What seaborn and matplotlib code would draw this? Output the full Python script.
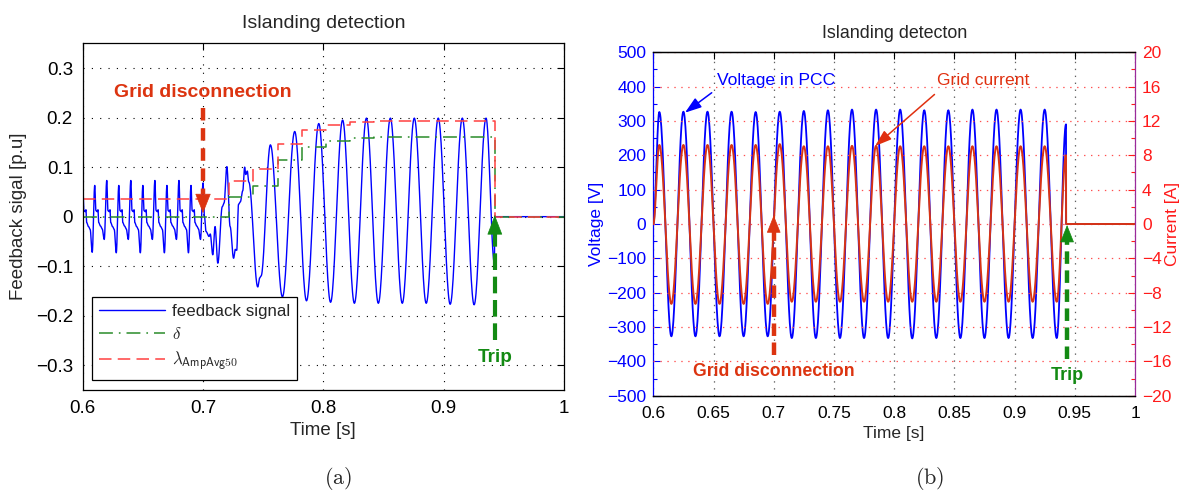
import numpy as np
import matplotlib
matplotlib.use("Agg")
import matplotlib.pyplot as plt
import seaborn as sns

# ------------------------------------------------------------------ data
t_disconnect = 0.70
t_trip = 0.9425

# (a) feedback signal key points (peaks / troughs / shoulders) before disconnection
fb_pre_t = [
    0.6000, 0.6010, 0.6020, 0.6027, 0.6033, 0.6048, 0.6062, 0.6079,
    0.6100, 0.6110, 0.6120, 0.6127, 0.6133, 0.6148, 0.6162, 0.6179,
    0.6200, 0.6210, 0.6220, 0.6227, 0.6233, 0.6248, 0.6262, 0.6279,
    0.6300, 0.6310, 0.6320, 0.6327, 0.6333, 0.6348, 0.6362, 0.6379,
    0.6400, 0.6410, 0.6420, 0.6427, 0.6433, 0.6448, 0.6462, 0.6479,
    0.6500, 0.6510, 0.6520, 0.6527, 0.6533, 0.6548, 0.6562, 0.6579,
    0.6600, 0.6610, 0.6620, 0.6627, 0.6633, 0.6648, 0.6662, 0.6679,
    0.6700, 0.6710, 0.6720, 0.6727, 0.6733, 0.6748, 0.6762, 0.6779,
    0.6800, 0.6810, 0.6820, 0.6827, 0.6833, 0.6848, 0.6862, 0.6879,
    0.6900, 0.6910, 0.6920, 0.6927, 0.6933, 0.6948, 0.6962, 0.6979,
]
fb_pre_v = [
    0.073, 0.012, 0.010, 0.014, -0.012, -0.020, -0.026, -0.072,
    0.063, 0.012, 0.010, 0.014, -0.012, -0.019, -0.025, -0.046,
    0.073, 0.012, 0.010, 0.014, -0.012, -0.020, -0.026, -0.073,
    0.063, 0.012, 0.010, 0.014, -0.012, -0.019, -0.025, -0.046,
    0.073, 0.012, 0.010, 0.014, -0.012, -0.020, -0.026, -0.073,
    0.063, 0.012, 0.010, 0.014, -0.012, -0.019, -0.025, -0.046,
    0.073, 0.012, 0.010, 0.014, -0.012, -0.020, -0.026, -0.073,
    0.063, 0.012, 0.010, 0.014, -0.012, -0.019, -0.025, -0.046,
    0.073, 0.012, 0.010, 0.014, -0.012, -0.020, -0.026, -0.073,
    0.063, 0.012, 0.010, 0.014, -0.012, -0.019, -0.025, -0.046,
]
# after disconnection
fb_post_t = [
    0.7000, 0.7012, 0.7025, 0.7050, 0.7060, 0.7081, 0.7100, 0.7123,
    0.7160, 0.7175, 0.7198, 0.7225, 0.7254, 0.7268, 0.7280, 0.7295,
    0.7310, 0.7330, 0.7346, 0.7355, 0.7368, 0.7380, 0.7455, 0.7470,
    0.7482, 0.7560, 0.7660, 0.7762, 0.7860, 0.7962, 0.8060, 0.8160,
    0.8258, 0.8358, 0.8457, 0.8557, 0.8656, 0.8756, 0.8855, 0.8955,
    0.9054, 0.9155, 0.9253, 0.9352, 0.9422, 0.9424, 1.0000,
]
fb_post_v = [
    0.068, 0.000, -0.030, -0.040, -0.035, -0.077, -0.020, -0.094,
    0.020, 0.028, 0.101, -0.020, -0.084, -0.066, -0.068, 0.025,
    0.030, 0.052, 0.100, 0.085, 0.092, 0.070, -0.142, -0.124,
    -0.120, 0.145, -0.162, 0.172, -0.170, 0.188, -0.173, 0.195,
    -0.175, 0.199, -0.175, 0.199, -0.175, 0.199, -0.175, 0.199,
    -0.177, 0.199, -0.178, 0.199, -0.095, 0.000, 0.000,
]
# step signals
step_t = [0.600, 0.722, 0.7413, 0.7622, 0.7823, 0.8022, 0.822, 0.842, 0.9425, 1.000]
delta_v = [0.000, 0.040, 0.062, 0.115, 0.140, 0.152, 0.158, 0.161, 0.000, 0.000]
lambda_v = [0.035, 0.072, 0.096, 0.147, 0.174, 0.186, 0.191, 0.194, 0.000, 0.000]

# (b) PCC voltage and grid current extrema
wave_t = [0.600,
          0.605, 0.615, 0.625, 0.635, 0.645, 0.655, 0.665, 0.675, 0.685, 0.695,
          0.705, 0.715, 0.725, 0.735, 0.745, 0.755, 0.765, 0.775, 0.785, 0.795,
          0.805, 0.815, 0.825, 0.835, 0.845, 0.855, 0.865, 0.875, 0.885, 0.895,
          0.905, 0.915, 0.925, 0.935,
          0.9427, 0.9428, 1.000]
volt_v = [0,
          326, -327, 327, -327, 327, -327, 327, -327, 326, -327,
          327, -332, 329, -332, 331, -332, 333, -332, 333, -332,
          333, -333, 331, -332, 331, -332, 333, -332, 333, -332,
          333, -332, 333, -332,
          290, 0, 0]
curr_v = [0,
          9.2, -9.3, 9.2, -9.3, 9.2, -9.3, 9.2, -9.3, 9.2, -9.3,
          9.3, -9.05, 9.05, -9.05, 9.05, -9.05, 9.1, -9.05, 9.1, -9.05,
          9.05, -9.05, 9.05, -9.05, 9.05, -9.05, 9.05, -9.05, 9.05, -9.05,
          9.05, -9.05, 9.05, -9.05,
          8.0, 0, 0]

xticks_a = [0.6, 0.7, 0.8, 0.9, 1.0]
xlabels_a = ["0.6", "0.7", "0.8", "0.9", "1"]
yticks_a = [-0.3, -0.2, -0.1, 0.0, 0.1, 0.2, 0.3]
ylabels_a = ["\u22120.3", "\u22120.2", "\u22120.1", "0", "0.1", "0.2", "0.3"]
xticks_b = [0.6, 0.65, 0.7, 0.75, 0.8, 0.85, 0.9, 0.95, 1.0]
xlabels_b = ["0.6", "0.65", "0.7", "0.75", "0.8", "0.85", "0.9", "0.95", "1"]
vticks = list(range(-500, 501, 100))
vlabels = [str(v).replace("-", "\u2212") for v in vticks]
iticks = list(range(-20, 21, 4))
ilabels = [str(v).replace("-", "\u2212") for v in iticks]


# ------------------------------------------------------------------ helpers
def cosine_path(tk, vk, n=30):
    tk = np.asarray(tk, float)
    vk = np.asarray(vk, float)
    s = np.linspace(0, 1, n, endpoint=False)
    w = 0.5 - 0.5 * np.cos(np.pi * s)
    t = (tk[:-1, None] + np.diff(tk)[:, None] * s).ravel()
    v = (vk[:-1, None] + np.diff(vk)[:, None] * w).ravel()
    return np.append(t, tk[-1]), np.append(v, vk[-1])


def step_path(tk, vk):
    tk = np.asarray(tk, float)
    vk = np.asarray(vk, float)
    return np.repeat(tk, 2)[1:-1], np.repeat(vk[:-1], 2)


# ------------------------------------------------------------------ style
sns.set_theme(style="white")
plt.rcParams["font.family"] = ["Liberation Sans", "DejaVu Sans"]
plt.rcParams["mathtext.fontset"] = "cm"
plt.rcParams["lines.scale_dashes"] = False
plt.rcParams["axes.unicode_minus"] = True

W, H = 1182, 492
fig = plt.figure(figsize=(W / 100, H / 100), dpi=100)
fig.patch.set_facecolor("white")


def px_axes(x0, y0, x1, y1):
    return fig.add_axes([x0 / W, 1 - y1 / H, (x1 - x0) / W, (y1 - y0) / H])


BLUE = "#0000ff"
GREEN = "#2a8c2a"
LRED = "#ff4040"
ORANGE = "#dc3410"
TRIPG = "#138a13"

# ================================================================== (a)
ax = px_axes(82.7, 43.3, 564.0, 390.0)
fb_t, fb_v = cosine_path(fb_pre_t + fb_post_t, fb_pre_v + fb_post_v, n=25)
sns.lineplot(x=fb_t, y=fb_v, ax=ax, sort=False, estimator=None,
             color=BLUE, linewidth=1.0, label="feedback signal")
st, sd = step_path(step_t, delta_v)
sns.lineplot(x=st, y=sd, ax=ax, sort=False, estimator=None,
             color=GREEN, linewidth=1.1, linestyle=(0, (10, 4.3, 1.2, 4.3)),
             label=r"$\delta$")
st, sl = step_path(step_t, lambda_v)
sns.lineplot(x=st, y=sl, ax=ax, sort=False, estimator=None,
             color=LRED, linewidth=1.1, linestyle=(0, (9, 4.5)),
             label=r"$\lambda_{\mathsf{AmpAvg50}}$")

ax.set_xlim(0.6, 1.0)
ax.set_ylim(-0.35, 0.35)
ax.set_xticks(xticks_a)
ax.set_xticklabels(xlabels_a)
ax.set_yticks(yticks_a)
ax.set_yticklabels(ylabels_a)
ax.tick_params(direction="in", top=True, right=True, length=5, width=0.8,
               labelsize=13.5, colors="black", pad=7)
ax.grid(True, color="black", linestyle=(0, (0.8, 5.2)), linewidth=0.8)
for sp in ax.spines.values():
    sp.set_color("black")
    sp.set_linewidth(0.9)
ax.set_xlabel("Time [s]", fontsize=13.5, labelpad=4)
ax.set_ylabel("Feedback sigal [p.u]", fontsize=13.5, labelpad=6)
ax.set_title("Islanding detection", fontsize=14, pad=11)

leg = ax.legend(handles=ax.get_lines()[:3], loc="lower left",
                bbox_to_anchor=(0.020, 0.029), borderaxespad=0,
                fontsize=12.2, handlelength=3.9, handletextpad=0.4,
                labelspacing=0.42, borderpad=0.4, fancybox=False,
                framealpha=1, edgecolor="black")
leg.get_frame().set_linewidth(0.9)

# annotations (a)
ax.text(t_disconnect, 0.25, "Grid disconnection", color=ORANGE, fontsize=14,
        fontweight="bold", ha="center", va="center")
ax.plot([t_disconnect, t_disconnect], [0.22, 0.046], color=ORANGE, lw=3.2,
        linestyle=(0, (9, 5.5)), solid_capstyle="butt", dash_capstyle="butt")
ax.annotate("", xy=(t_disconnect, 0.007), xytext=(t_disconnect, 0.044),
            arrowprops=dict(arrowstyle="-|>,head_length=13,head_width=5.2",
                            mutation_scale=1, color=ORANGE, lw=0.5,
                            shrinkA=0, shrinkB=0))
ax.text(t_trip, -0.284, "Trip", color=TRIPG, fontsize=13.6, fontweight="bold",
        ha="center", va="center")
ax.plot([t_trip, t_trip], [-0.25, -0.036], color=TRIPG, lw=3.0,
        linestyle=(0, (12, 4.8)), dash_capstyle="butt")
ax.annotate("", xy=(t_trip, 0.003), xytext=(t_trip, -0.034),
            arrowprops=dict(arrowstyle="-|>,head_length=13,head_width=5.0",
                            mutation_scale=1, color=TRIPG, lw=0.5,
                            shrinkA=0, shrinkB=0))

# ================================================================== (b)
axr = px_axes(653.3, 52.2, 1135.0, 395.8)
ax2 = axr.twinx()
wt, wv = cosine_path(wave_t, volt_v, n=30)
sns.lineplot(x=wt, y=wv, ax=axr, sort=False, estimator=None,
             color=BLUE, linewidth=1.3, legend=False)
wt, wi = cosine_path(wave_t, curr_v, n=30)
sns.lineplot(x=wt, y=wi, ax=ax2, sort=False, estimator=None,
             color="#d83414", linewidth=1.4, legend=False)

axr.set_xlim(0.6, 1.0)
axr.set_ylim(-500, 500)
ax2.set_ylim(-20, 20)
axr.set_xticks(xticks_b)
axr.set_xticklabels(xlabels_b)
axr.set_yticks(vticks)
axr.set_yticklabels(vlabels)
axr.set_yticks(np.arange(-450, 500, 100), minor=True)
ax2.set_yticks(iticks)
ax2.set_yticklabels(ilabels)
ax2.set_yticks(np.arange(-18, 20, 4), minor=True)

axr.tick_params(axis="x", direction="in", top=True, length=5, width=0.8,
                labelsize=12.5, colors="black", pad=7)
axr.tick_params(axis="y", which="major", direction="in", length=5, width=0.8,
                labelsize=12.5, colors=BLUE, pad=5)
axr.tick_params(axis="y", which="minor", direction="in", length=3, width=0.8,
                colors=BLUE, left=True)
ax2.tick_params(axis="y", which="major", direction="in", length=5, width=0.8,
                labelsize=12.5, colors="#ff1a1a", pad=5)
ax2.tick_params(axis="y", which="minor", direction="in", length=3, width=0.8,
                colors="#ff1a1a", right=True)

axr.grid(False)
ax2.grid(False)
axr.xaxis.grid(True, color="#606060", linestyle=(0, (1, 4)), linewidth=0.9)
ax2.yaxis.grid(True, color="#ff5050", linestyle=(0, (1, 4)), linewidth=0.9)

axr.spines["left"].set_color(BLUE)
axr.spines["right"].set_visible(False)
ax2.spines["left"].set_visible(False)
ax2.spines["right"].set_color("#9a2a9a")
for a in (axr, ax2):
    a.spines["top"].set_color("black")
    a.spines["bottom"].set_color("black")
    for sp in a.spines.values():
        sp.set_linewidth(0.9)

axr.set_xlabel("Time [s]", fontsize=12.5, labelpad=4)
axr.set_ylabel("Voltage [V]", fontsize=12.5, color=BLUE, labelpad=2)
ax2.set_ylabel("Current [A]", fontsize=12.5, color="#ff1a1a", labelpad=-4.5)
axr.set_title("Islanding detecton", fontsize=12.9, pad=10)

T = axr.transData
ax2.text(0.6526, 419, "Voltage in PCC", transform=T, color=BLUE,
         fontsize=12.6, ha="left", va="center")
ax2.annotate("", xy=(0.6263, 324), xytext=(0.6485, 382), xycoords=T,
             textcoords=T,
             arrowprops=dict(arrowstyle="-|>,head_length=10,head_width=3.4",
                             mutation_scale=1, color=BLUE, lw=1.1,
                             shrinkA=0, shrinkB=0))
ax2.text(0.8357, 419, "Grid current", transform=T, color="#e03010",
         fontsize=12.6, ha="left", va="center")
ax2.annotate("", xy=(0.7842, 227), xytext=(0.8335, 377), xycoords=T,
             textcoords=T,
             arrowprops=dict(arrowstyle="-|>,head_length=10,head_width=3.4",
                             mutation_scale=1, color="#e03010", lw=1.1,
                             shrinkA=0, shrinkB=0))

ax2.text(t_disconnect, -428, "Grid disconnection", transform=T, color=ORANGE,
         fontsize=12.7, fontweight="bold", ha="center", va="center")
ax2.plot([t_disconnect, t_disconnect], [-381, -22], transform=T, color=ORANGE,
         lw=3.2, linestyle=(0, (9, 4.7)), dash_capstyle="butt", zorder=5)
ax2.annotate("", xy=(t_disconnect, 25), xytext=(t_disconnect, -20),
             xycoords=T, textcoords=T,
             arrowprops=dict(arrowstyle="-|>,head_length=11.5,head_width=4.6",
                             mutation_scale=1, color=ORANGE, lw=0.5,
                             shrinkA=0, shrinkB=0), zorder=6)
t_trip_b = 0.9436
ax2.text(t_trip_b, -441, "Trip", transform=T, color=TRIPG, fontsize=13,
         fontweight="bold", ha="center", va="center")
ax2.plot([t_trip_b, t_trip_b], [-393, -50], transform=T, color=TRIPG,
         lw=3.2, linestyle=(0, (9, 4.7)), dash_capstyle="butt", zorder=5)
ax2.annotate("", xy=(t_trip_b, -3), xytext=(t_trip_b, -48),
             xycoords=T, textcoords=T,
             arrowprops=dict(arrowstyle="-|>,head_length=11.5,head_width=4.6",
                             mutation_scale=1, color=TRIPG, lw=0.5,
                             shrinkA=0, shrinkB=0), zorder=6)

# captions
fig.text(337.7 / W, 1 - 478 / H, r"$\mathrm{(a)}$", ha="center", va="center",
         fontsize=16)
fig.text(930 / W, 1 - 478 / H, r"$\mathrm{(b)}$", ha="center", va="center",
         fontsize=16)

fig.savefig("out.png", dpi=100)
